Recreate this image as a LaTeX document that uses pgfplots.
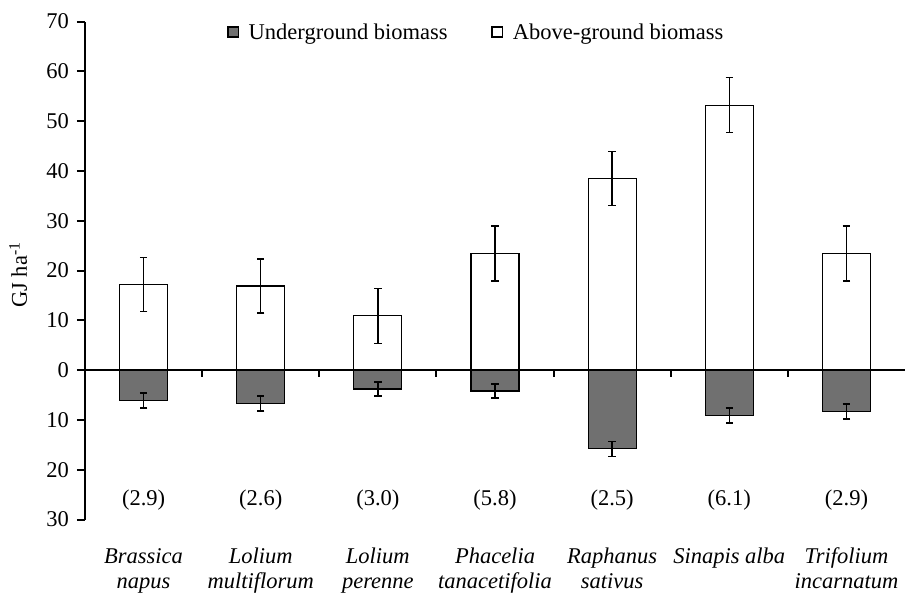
\documentclass[border=0pt]{standalone}
\usepackage{pgfplots}
\usepackage{pgfplotstable}
\pgfplotsset{compat=1.18}
\usepackage{fontspec}
\setmainfont{Liberation Serif}
\definecolor{undergray}{RGB}{112,112,112}
\newcommand{\lf}{\fontsize{22.5bp}{26bp}\selectfont}

\pgfplotstableread{
x y err
0 17.2 5.4
1 16.9 5.4
2 10.9 5.5
3 23.4 5.5
4 38.5 5.4
5 53.2 5.5
6 23.4 5.5
}\aboveT
\pgfplotstableread{
x y err
0 -6.1 1.5
1 -6.7 1.5
2 -3.8 1.4
3 -4.2 1.4
4 -15.8 1.5
5 -9.1 1.5
6 -8.3 1.5
}\underT

\begin{document}
\begin{tikzpicture}[font=\lf]
\begin{axis}[
  name=ax,
  scale only axis,
  width=820bp, height=498bp,
  xmin=-0.5, xmax=6.5, ymin=-30, ymax=70,
  axis x line=none,
  axis y line*=left,
  axis line style={line width=2bp, -},
  xtick=\empty,
  ytick={-30,-20,...,70},
  yticklabels={30,20,10,0,10,20,30,40,50,60,70},
  ytick align=outside,
  major tick length=8bp,
  y tick style={line width=2bp, black},
  every tick label/.append style={font=\fontsize{22.5bp}{26bp}\selectfont},
  yticklabel style={xshift=-4.5bp},
  /pgf/number format/assume math mode=true,
  clip=false,
  legend columns=2,
  legend style={draw=none, fill=none, inner sep=0pt, at={(rel axis cs:0.1728,0.979)}, anchor=west,
    nodes={inner sep=0pt},
    /tikz/every odd column/.append style={column sep=9.4bp},
    /tikz/every even column/.append style={column sep=43.4bp},
    font=\lf},
]
\addplot[ybar, bar shift=0pt, bar width=0.41, fill=undergray, draw=black, line width=1.2bp,
  legend image code/.code={\draw[line width=1.8bp, fill=undergray, draw=black] (0bp,-5.3bp) rectangle (10.6bp,5.3bp);},
  error bars/.cd, y dir=both, y explicit,
  error bar style={line width=1.4bp, black},
  error mark options={rotate=90, mark size=3.7bp, line width=1.4bp, black}]
  table[x=x, y=y, y error=err]{\underT};
\addlegendentry{Underground biomass}
\addplot[ybar, bar shift=0pt, bar width=0.41, fill=white, draw=black, line width=1.2bp,
  legend image code/.code={\draw[line width=1.8bp, fill=white, draw=black] (0bp,-5.3bp) rectangle (10.6bp,5.3bp);},
  error bars/.cd, y dir=both, y explicit,
  error bar style={line width=1.4bp, black},
  error mark options={rotate=90, mark size=3.7bp, line width=1.4bp, black}]
  table[x=x, y=y, y error=err]{\aboveT};
\addlegendentry{Above-ground biomass}
\draw[line width=1.8bp] (axis cs:-0.5,0) -- (axis cs:6.5,0);
\pgfplotsinvokeforeach{0.5,1.5,2.5,3.5,4.5,5.5}{
  \draw[line width=2bp] (axis cs:#1,0) -- ++(0bp,-7bp);
}
% ratio labels
\node at (axis cs:0,-26.1) {(2.9)};
\node at (axis cs:1,-26.1) {(2.6)};
\node at (axis cs:2,-26.1) {(3.0)};
\node at (axis cs:3,-26.1) {(5.8)};
\node at (axis cs:4,-26.1) {(2.5)};
\node at (axis cs:5,-26.1) {(6.1)};
\node at (axis cs:6,-26.1) {(2.9)};
% category labels
\node[anchor=base, font=\lf\itshape] at ([yshift=-43.8bp]axis cs:0,-30) {Brassica};
\node[anchor=base, font=\lf\itshape] at ([yshift=-68.8bp]axis cs:0,-30) {napus};
\node[anchor=base, font=\lf\itshape] at ([yshift=-43.8bp]axis cs:1,-30) {Lolium};
\node[anchor=base, font=\lf\itshape] at ([yshift=-68.8bp]axis cs:1,-30) {multiflorum};
\node[anchor=base, font=\lf\itshape] at ([yshift=-43.8bp]axis cs:2,-30) {Lolium};
\node[anchor=base, font=\lf\itshape] at ([yshift=-68.8bp]axis cs:2,-30) {perenne};
\node[anchor=base, font=\lf\itshape] at ([yshift=-43.8bp]axis cs:3,-30) {Phacelia};
\node[anchor=base, font=\lf\itshape] at ([yshift=-68.8bp]axis cs:3,-30) {tanacetifolia};
\node[anchor=base, font=\lf\itshape] at ([yshift=-43.8bp]axis cs:4,-30) {Raphanus};
\node[anchor=base, font=\lf\itshape] at ([yshift=-68.8bp]axis cs:4,-30) {sativus};
\node[anchor=base, font=\lf\itshape] at ([yshift=-43.8bp]axis cs:5,-30) {Sinapis alba};
\node[anchor=base, font=\lf\itshape] at ([yshift=-43.8bp]axis cs:6,-30) {Trifolium};
\node[anchor=base, font=\lf\itshape] at ([yshift=-68.8bp]axis cs:6,-30) {incarnatum};
% y label
\node[rotate=90, anchor=base] at ([xshift=-58bp]rel axis cs:0,0.491) {GJ ha\textsuperscript{-1}};
\end{axis}
\pgfresetboundingbox
\path ([shift={(-85bp,-74.5bp)}]ax.south west) rectangle ([shift={(0bp,21.5bp)}]ax.north east);
\end{tikzpicture}
\end{document}
